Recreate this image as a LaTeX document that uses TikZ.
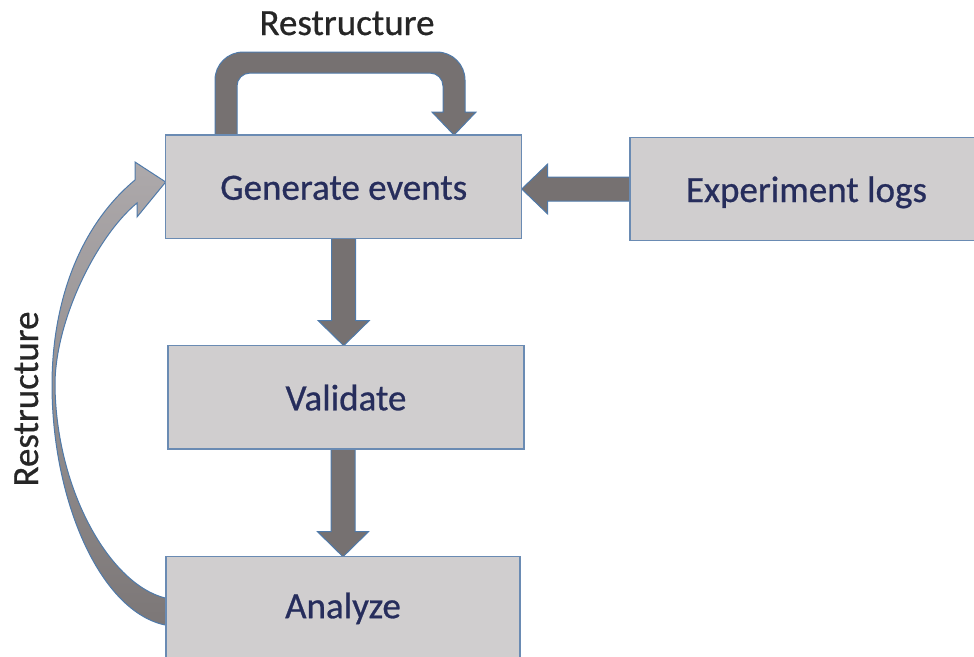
\documentclass[tikz,border=0pt]{standalone}
\usepackage{fontspec}
\setmainfont{Carlito}
\newfontfamily\heavyfont[FakeBold=0.7]{Carlito}
\usetikzlibrary{calc,backgrounds}
\definecolor{boxfill}{HTML}{D0CECF}
\definecolor{boxline}{HTML}{6A8BB3}
\definecolor{txt}{HTML}{262D5C}
\definecolor{arrfill}{HTML}{767171}
\definecolor{arrline}{HTML}{4F7AAA}
\definecolor{lbl}{HTML}{262626}
\definecolor{curvetop}{HTML}{ADA9AB}
\definecolor{curvebot}{HTML}{7C7777}
\begin{document}
\begin{tikzpicture}[x=1pt,y=-1pt,
  stage/.style={draw=boxline, line width=1.3pt, fill=boxfill, text=txt,
    font=\heavyfont\fontsize{37}{44}\selectfont, text height=26pt, text depth=0pt,
    inner sep=0pt, outer sep=0pt},
  blk/.style={fill=arrfill, draw=arrline, line width=1pt, line join=miter},
  lab/.style={text=lbl, font=\heavyfont\fontsize{37}{44}\selectfont, inner sep=0pt}]
\useasboundingbox (0,0) rectangle (974,656);

\node[stage, minimum width=356pt, minimum height=103.3pt] (gen) at (343.7,186.7) {Generate events};
\node[stage, minimum width=356pt, minimum height=103.3pt] (val) at (346,397.3) {Validate};
\node[stage, minimum width=354pt, minimum height=103pt, text depth=6pt] (ana) at (343,608.2) {Analyze};
\node[stage, minimum width=353pt, minimum height=103.4pt] (exp) at (806.5,189) {Experiment logs};

\node[lab, anchor=base] (rtop) at (347,35) {Restructure};
\node[lab, rotate=90, anchor=base] (rleft) at (38,399) {Restructure};

\begin{pgfonlayer}{background}
% Generate -> Validate
\draw[blk] ($(gen.south)+(-12,0)$) -- ($(gen.south|-val.north)+(-12,-25)$)
  -- ($(gen.south|-val.north)+(-25.5,-25)$) -- (gen.south|-val.north)
  -- ($(gen.south|-val.north)+(25.5,-25)$) -- ($(gen.south|-val.north)+(12,-25)$)
  -- ($(gen.south)+(12,0)$);
% Validate -> Analyze
\draw[blk] ($(ana.north|-val.south)+(-12,0)$) -- ($(ana.north)+(-12,-25)$)
  -- ($(ana.north)+(-25.5,-25)$) -- (ana.north)
  -- ($(ana.north)+(25.5,-25)$) -- ($(ana.north)+(12,-25)$)
  -- ($(ana.north|-val.south)+(12,0)$);
% Experiment logs -> Generate
\draw[blk] ($(exp.west)+(0,-12)$) -- ($(gen.east|-exp.west)+(26,-12)$)
  -- ($(gen.east|-exp.west)+(26,-25)$) -- (gen.east|-exp.west)
  -- ($(gen.east|-exp.west)+(26,25)$) -- ($(gen.east|-exp.west)+(26,12)$)
  -- ($(exp.west)+(0,12)$);
% Top loop: Generate -> Generate
\begin{scope}[shift={(gen.north west)}]
\draw[blk] (49.3,0) [rounded corners=28pt] -- (49.3,-83) -- (299.3,-83)
  [sharp corners] -- (299.3,-23) -- (310.3,-23) -- (288.3,0) -- (266.3,-23) -- (277.3,-23)
  [rounded corners=13pt] -- (277.3,-62) -- (71.3,-62) -- (71.3,0);
\end{scope}
% Left curved arrow: Analyze -> Generate
\shade[top color=curvetop, bottom color=curvebot, draw=arrline, line width=1pt, line join=miter]
  ($(ana.west)+(0,17)$) .. controls (100,612) and (52,500) .. (52,385)
  .. controls (52,310) and (75,230) .. (135,180)
  -- (135,162) -- ($(gen.west)+(0,-4.7)$) -- (137,217) -- (137,203)
  .. controls (97,236) and (55,320) .. (55,385)
  .. controls (56,490) and (110,585) .. ($(ana.west)+(0,-10)$);
\end{pgfonlayer}
\end{tikzpicture}
\end{document}
